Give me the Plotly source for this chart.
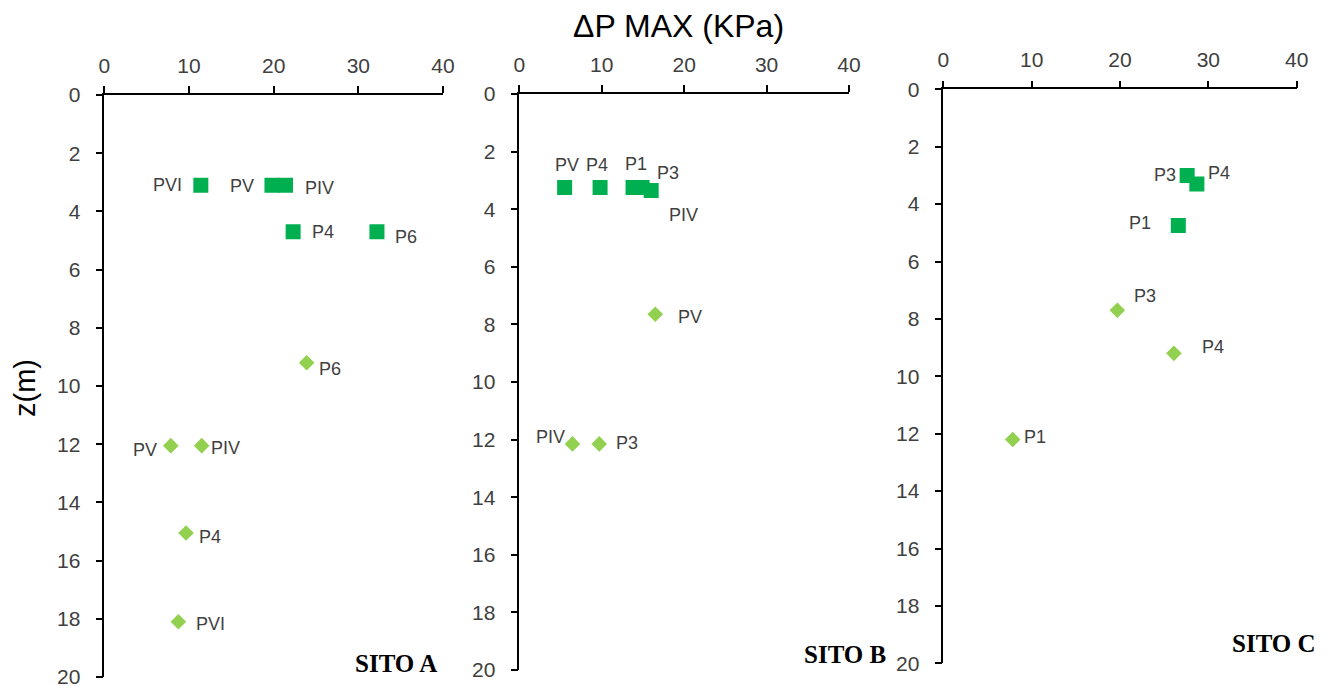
import plotly.graph_objects as go

W, H = 1326, 686

# ---------------- data ----------------
# SITO A
a_sq_x = [11.4, 19.8, 21.4, 22.3, 32.2]
a_sq_z = [3.1, 3.1, 3.1, 4.7, 4.7]
a_sq_lab = ["PVI", "PV", "PIV", "P4", "P6"]
a_di_x = [23.9, 7.85, 11.5, 9.65, 8.75]
a_di_z = [9.2, 12.05, 12.05, 15.05, 18.1]
a_di_lab = ["P6", "PV", "PIV", "P4", "PVI"]

# SITO B
b_sq_x = [5.5, 9.8, 13.8, 14.9, 16.0]
b_sq_z = [3.25, 3.25, 3.25, 3.25, 3.35]
b_sq_lab = ["PV", "P4", "P1", "PIV", "P3"]
b_di_x = [16.5, 6.45, 9.7]
b_di_z = [7.65, 12.15, 12.15]
b_di_lab = ["PV", "PIV", "P3"]

# SITO C
c_sq_x = [27.6, 28.7, 26.6]
c_sq_z = [3.0, 3.3, 4.75]
c_sq_lab = ["P3", "P4", "P1"]
c_di_x = [19.7, 26.1, 7.85]
c_di_z = [7.7, 9.2, 12.2]
c_di_lab = ["P3", "P4", "P1"]

x_ticks = [0, 10, 20, 30, 40]
z_ticks = [0, 2, 4, 6, 8, 10, 12, 14, 16, 18, 20]
site_names = ["SITO A", "SITO B", "SITO C"]

# ---------------- style / layout ----------------
SQ_COLOR = "#00B050"
DI_COLOR = "#92D050"
TXT = "#404040"
FONT = "Liberation Sans, Arial, sans-serif"

# label offsets (px, dx right, dy down) per label
a_sq_off = [(-33, 0), (-30, 1), (34, 3), (30, 0), (29, 5)]
a_di_off = [(23, 6), (-26, 4), (24, 2), (24, 4), (32, 2)]
b_sq_off = [(2, -23), (-3, -23), (3, -24), (41, 27), (17, -17)]
b_di_off = [(35, 3), (-22, -7), (28, -1)]
c_sq_off = [(-22, 0), (22, -11), (-38, -3)]
c_di_off = [(28, -14), (39, -6), (22, -2)]

# panel pixel boxes: (x0, x1, ytop, ybottom)
boxes = [(104.3, 443.0, 95.0, 677.0),
         (519.3, 849.0, 94.0, 670.0),
         (943.3, 1296.7, 89.3, 663.3)]
site_pos = [(396, 663), (845, 654), (1274, 643)]

fig = go.Figure()

panels = [
    (a_sq_x, a_sq_z, a_sq_lab, a_sq_off, a_di_x, a_di_z, a_di_lab, a_di_off),
    (b_sq_x, b_sq_z, b_sq_lab, b_sq_off, b_di_x, b_di_z, b_di_lab, b_di_off),
    (c_sq_x, c_sq_z, c_sq_lab, c_sq_off, c_di_x, c_di_z, c_di_lab, c_di_off),
]

annotations = []
for i, (sx, sz, sl, so, dx, dz, dl, do) in enumerate(panels):
    n = "" if i == 0 else str(i + 1)
    xa, ya = "x" + n, "y" + n
    fig.add_trace(go.Scatter(x=sx, y=sz, mode="markers", xaxis=xa, yaxis=ya,
                             marker=dict(symbol="square", size=15, color=SQ_COLOR),
                             showlegend=False, hoverinfo="x+y"))
    fig.add_trace(go.Scatter(x=dx, y=dz, mode="markers", xaxis=xa, yaxis=ya,
                             marker=dict(symbol="diamond", size=12, color=DI_COLOR),
                             showlegend=False, hoverinfo="x+y"))
    for xs, zs, labs, offs in ((sx, sz, sl, so), (dx, dz, dl, do)):
        for xv, zv, lab, (ox, oy) in zip(xs, zs, labs, offs):
            annotations.append(dict(x=xv, y=zv, xref=xa, yref=ya, text=lab,
                                    showarrow=False, xanchor="center", yanchor="middle",
                                    xshift=ox, yshift=-oy,
                                    font=dict(family=FONT, size=18, color=TXT)))
    x0, x1, yt, yb = boxes[i]
    axis_common = dict(showgrid=False, zeroline=False, showline=True, automargin=False,
                       linecolor="black", linewidth=1.5, ticks="outside",
                       ticklen=7, tickwidth=1.5, tickcolor="black",
                       ticklabeloverflow="allow",
                       tickfont=dict(family=FONT, size=21, color=TXT))
    fig.update_layout(**{
        "xaxis" + n: dict(domain=[x0 / W, x1 / W], range=[0, 40], tickvals=x_ticks,
                          side="top", anchor=ya, ticklabelstandoff=5, **axis_common),
        "yaxis" + n: dict(domain=[1 - yb / H, 1 - yt / H], range=[20, 0], tickvals=z_ticks,
                          anchor=xa, ticklabelstandoff=11, **axis_common),
    })
    px, py = site_pos[i]
    annotations.append(dict(x=px / W, y=1 - py / H, xref="paper", yref="paper",
                            text="<b>" + site_names[i] + "</b>", showarrow=False,
                            xanchor="center", yanchor="middle",
                            font=dict(family="Liberation Serif, Times New Roman, serif",
                                      size=25, color="black")))

annotations.append(dict(x=678 / W, y=1 - 26 / H, xref="paper", yref="paper",
                        text="\u0394P MAX (KPa)", showarrow=False,
                        xanchor="center", yanchor="middle",
                        font=dict(family=FONT, size=32, color="black")))
annotations.append(dict(x=25 / W, y=1 - 388 / H, xref="paper", yref="paper",
                        text="z(m)", showarrow=False, textangle=-90,
                        xanchor="center", yanchor="middle",
                        font=dict(family=FONT, size=29, color="black")))

fig.update_layout(width=W, height=H, margin=dict(l=0, r=0, t=0, b=0),
                  paper_bgcolor="white", plot_bgcolor="white",
                  annotations=annotations, showlegend=False)

fig.write_html("out.html", config={"displayModeBar": False},
               post_script="document.body.style.margin='0px';"
                           "document.body.style.overflow='hidden';")
